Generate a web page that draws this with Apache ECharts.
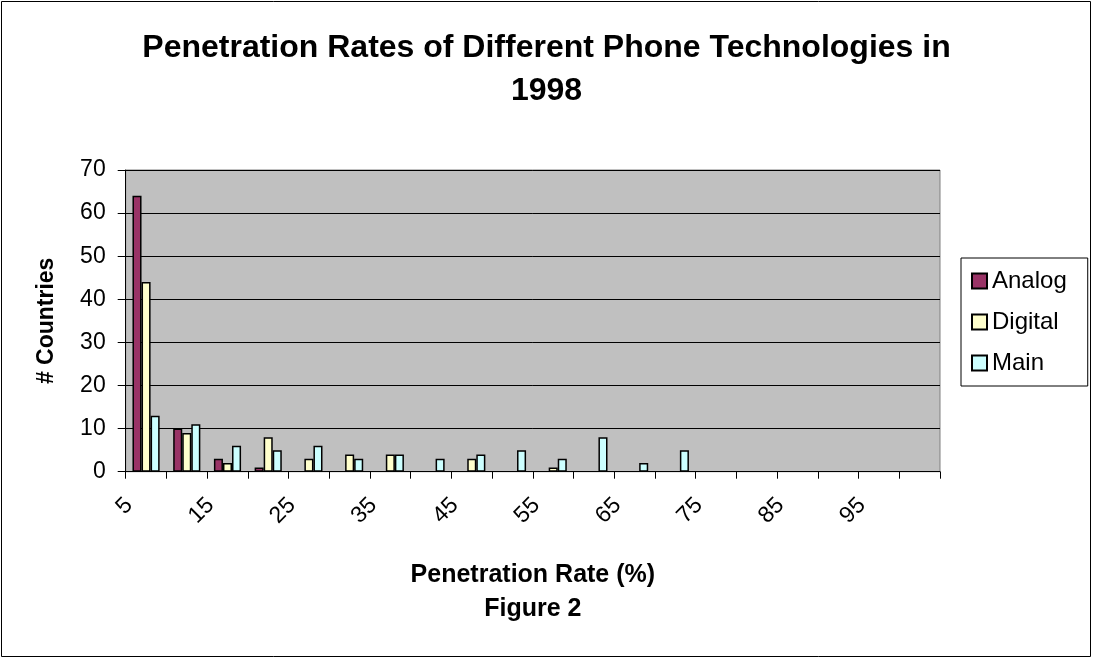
<!DOCTYPE html>
<html>
<head>
<meta charset="utf-8">
<script src="https://cdn.jsdelivr.net/npm/echarts@6/dist/echarts.min.js"></script>
<style>
html,body{margin:0;padding:0;background:#fff;}
#chart{width:1093px;height:659px;}
</style>
</head>
<body>
<div id="chart"></div>
<script>
const categories = ['5','10','15','20','25','30','35','40','45','50','55','60','65','70','75','80','85','90','95','100'];
const analog  = [64,10,3,1,0,0,0,0,0,0,0,0,0,0,0,0,0,0,0,0];
const digital = [44,9,2,8,3,4,4,0,3,0,1,0,0,0,0,0,0,0,0,0];
const main    = [13,11,6,5,6,3,4,3,4,5,3,8,2,5,0,0,0,0,0,0];
const seriesNames = ['Analog','Digital','Main'];
const seriesColors = ['#993366','#FFFFCC','#CCFFFF'];
const titleText = 'Penetration Rates of Different Phone Technologies in\n1998';
const xName = 'Penetration Rate (%)\nFigure 2';
const yName = '# Countries';

const FONT = "'Liberation Sans', Arial, sans-serif";
const chart = echarts.init(document.getElementById('chart'), null, {renderer:'canvas'});

// zero counts are drawn as empty (no visible bar), like the reference
const seriesData = [analog, digital, main].map(arr => arr.map(v => v === 0 ? '-' : v));
const option = {
  backgroundColor: '#fff',
  animation: false,
  title: {
    text: titleText,
    left: 'center',
    top: 27,
    padding: [0,0,0,10],
    textStyle: {fontFamily: FONT, fontWeight: 'bold', fontSize: 32, lineHeight: 43, color: '#000'}
  },
  graphic: [{
    type: 'rect',
    shape: {x: 1.5, y: 1.5, width: 1089, height: 655},
    style: {fill: 'none', stroke: '#000', lineWidth: 1},
    silent: true
  }],
  legend: {
    orient: 'vertical',
    left: 961,
    top: 258,
    padding: [11, 21, 11, 10],
    icon: 'rect',
    itemWidth: 15,
    itemHeight: 15,
    itemGap: 17,
    borderColor: '#000',
    borderWidth: 1,
    backgroundColor: '#fff',
    textStyle: {fontFamily: FONT, fontSize: 24, lineHeight: 24, color: '#000'},
    data: seriesNames
  },
  grid: {
    left: 125.7, right: 153, top: 170, bottom: 187.3,
    show: true, backgroundColor: '#C0C0C0', borderColor: '#808080', borderWidth: 1
  },
  xAxis: {
    type: 'category',
    data: categories,
    boundaryGap: true,
    name: xName,
    nameLocation: 'middle',
    nameGap: 86,
    nameTextStyle: {fontFamily: FONT, fontWeight: 'bold', fontSize: 25, lineHeight: 34, color: '#000'},
    axisLine: {lineStyle: {color: '#000', width: 1}},
    axisTick: {show: true, interval: 0, length: 7, lineStyle: {color: '#000'}},
    axisLabel: {interval: 1, rotate: 45, margin: 13, padding: [0, 24, 0, 0], fontFamily: FONT, fontSize: 23, color: '#000'},
    splitLine: {show: false}
  },
  yAxis: {
    type: 'value',
    min: 0, max: 70, interval: 10,
    name: yName,
    nameLocation: 'middle',
    nameGap: 68,
    nameRotate: 90,
    nameTextStyle: {fontFamily: FONT, fontWeight: 'bold', fontSize: 23, color: '#000'},
    axisLine: {show: true, lineStyle: {color: '#000', width: 1}},
    axisTick: {show: true, length: 8, lineStyle: {color: '#000'}},
    axisLabel: {margin: 20, fontFamily: FONT, fontSize: 23, color: '#000'},
    splitLine: {show: true, lineStyle: {color: '#000', width: 1}}
  },
  series: seriesNames.map((n, i) => ({
    name: n,
    type: 'bar',
    data: seriesData[i],
    barGap: '0%',
    barCategoryGap: '33.3%',
    itemStyle: {color: seriesColors[i], borderColor: '#000', borderWidth: 1.5}
  }))
};
chart.setOption(option);
</script>
</body>
</html>
